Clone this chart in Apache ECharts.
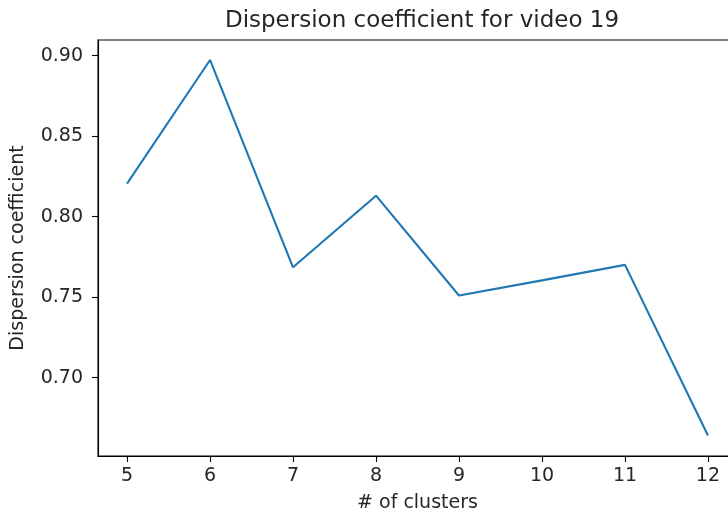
<!DOCTYPE html>
<html>
<head>
<meta charset="utf-8">
<script src="https://cdn.jsdelivr.net/npm/echarts@6/dist/echarts.min.js"></script>
<style>
  html, body { margin: 0; padding: 0; background: #fff; }
  #container { width: 728px; height: 521px; }
</style>
</head>
<body>
<div id="container"></div>
<script>
// values
var clusters = [5, 6, 7, 8, 9, 10, 11, 12];
var dispersion = [0.8205, 0.8973, 0.7685, 0.8130, 0.7510, 0.7604, 0.7700, 0.6640];
var xTicks = [5, 6, 7, 8, 9, 10, 11, 12];
var yTicks = [0.70, 0.75, 0.80, 0.85, 0.90];

var myChart = echarts.init(document.getElementById('container'));
var font = 'DejaVu Sans';
var ink = '#262626';

var option = {
	backgroundColor: '#fff',
	animation: false,
	title: {
		text: 'Dispersion coefficient for video 19',
		left: 417, top: 5,
		textAlign: 'center',
		textStyle: { fontFamily: font, fontSize: 23, fontWeight: 'normal', color: ink }
	},
	grid: {
		left: 98, top: 40, bottom: 65, right: -9,
		outerBoundsMode: 'none',
		show: true, borderColor: '#000', borderWidth: 1.1
	},
	xAxis: {
		type: 'value',
		min: 4.65, max: 12.35,
		name: '# of clusters',
		nameLocation: 'middle',
		nameGap: 38,
		nameTextStyle: { fontFamily: font, fontSize: 19, color: ink },
		axisLine: { show: true, lineStyle: { color: '#000', width: 1.1 } },
		axisTick: { show: true, length: 6, customValues: xTicks, lineStyle: { color: '#000', width: 1.1 } },
		axisLabel: { customValues: xTicks, margin: 11, fontFamily: font, fontSize: 19, color: ink },
		splitLine: { show: false }
	},
	yAxis: {
		type: 'value',
		min: 0.6513, max: 0.9097,
		name: 'Dispersion coefficient',
		nameLocation: 'middle',
		nameGap: 70,
		nameRotate: 90,
		nameTextStyle: { fontFamily: font, fontSize: 19, color: ink },
		axisLine: { show: true, lineStyle: { color: '#000', width: 1.1 } },
		axisTick: { show: true, length: 6, customValues: yTicks, lineStyle: { color: '#000', width: 1.1 } },
		axisLabel: {
			customValues: yTicks, margin: 15, fontFamily: font, fontSize: 19, color: ink,
			formatter: function (v) { return v.toFixed(2); }
		},
		splitLine: { show: false }
	},
	series: [{
		type: 'line',
		data: clusters.map(function (c, i) { return [c, dispersion[i]]; }),
		showSymbol: false,
		lineStyle: { color: '#1f77b4', width: 2.1 },
		itemStyle: { color: '#1f77b4' }
	}]
};
myChart.setOption(option);
</script>
</body>
</html>
